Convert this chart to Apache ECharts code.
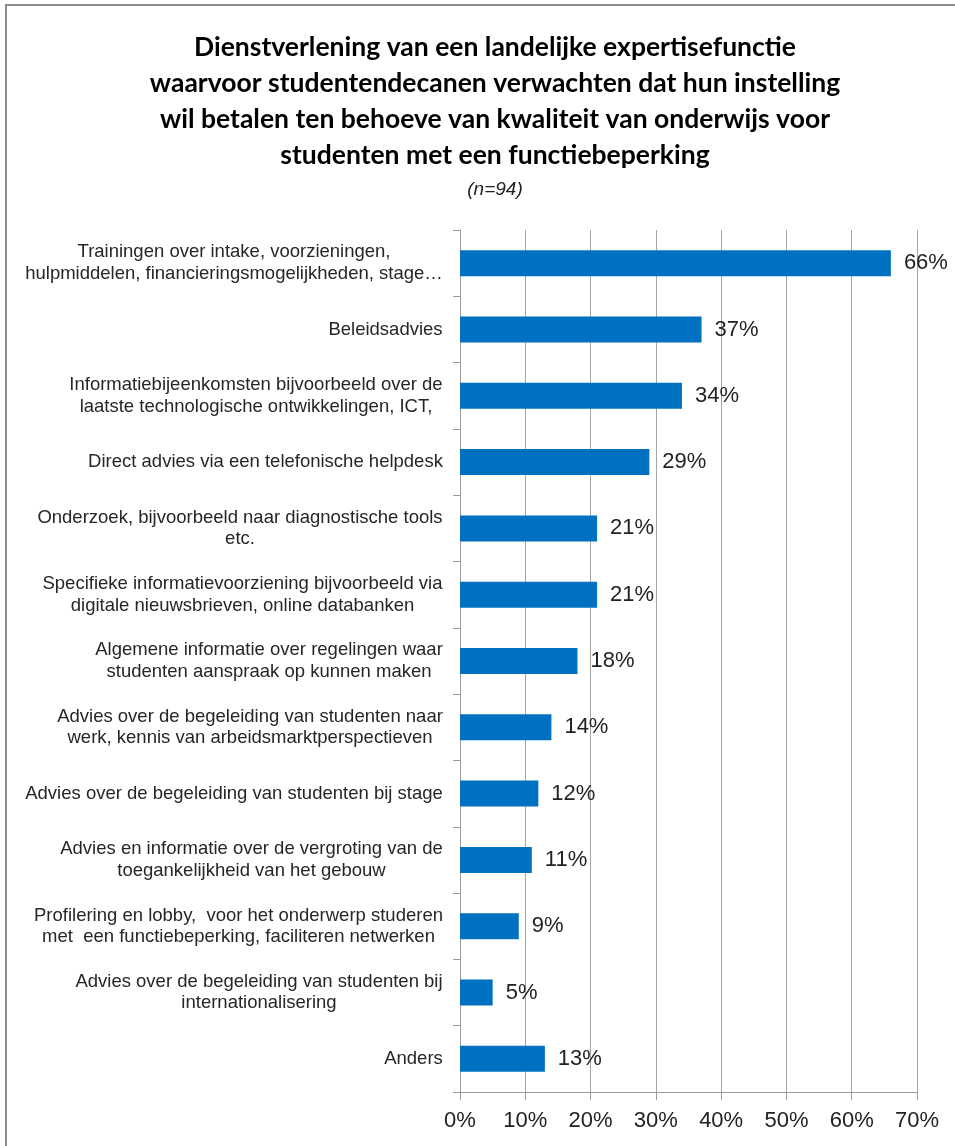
<!DOCTYPE html>
<html>
<head>
<meta charset="utf-8">
<script src="https://cdn.jsdelivr.net/npm/echarts@6/dist/echarts.min.js"></script>
<style>
html,body{margin:0;padding:0;background:#fff;}
#chart{width:955px;height:1146px;}
</style>
</head>
<body>
<div id="chart"></div>
<script>
const titleLines = [
  'Dienstverlening van een landelijke expertisefunctie',
  'waarvoor studentendecanen verwachten dat hun instelling',
  'wil betalen ten behoeve van kwaliteit van onderwijs voor',
  'studenten met een functiebeperking'
];
const subtitle = '(n=94)';
const categories = [
  'Trainingen over intake, voorzieningen,\nhulpmiddelen, financieringsmogelijkheden, stage…',
  'Beleidsadvies',
  'Informatiebijeenkomsten bijvoorbeeld over de\nlaatste technologische ontwikkelingen, ICT,',
  'Direct advies via een telefonische helpdesk',
  'Onderzoek, bijvoorbeeld naar diagnostische tools\netc.',
  'Specifieke informatievoorziening bijvoorbeeld via\ndigitale nieuwsbrieven, online databanken',
  'Algemene informatie over regelingen waar\nstudenten aanspraak op kunnen maken',
  'Advies over de begeleiding van studenten naar\nwerk, kennis van arbeidsmarktperspectieven',
  'Advies over de begeleiding van studenten bij stage',
  'Advies en informatie over de vergroting van de\ntoegankelijkheid van het gebouw',
  'Profilering en lobby,  voor het onderwerp studeren\nmet  een functiebeperking, faciliteren netwerken',
  'Advies over de begeleiding van studenten bij\ninternationalisering',
  'Anders'
];
const values = [66, 37, 34, 29, 21, 21, 18, 14, 12, 11, 9, 5, 13];
const xTicks = [0, 10, 20, 30, 40, 50, 60, 70];

const labelSize = 18.5;
const canvas = document.createElement('canvas');
const ctx = canvas.getContext('2d');
ctx.font = labelSize + 'px "Liberation Sans"';
const rich = {};
categories.forEach((c, i) => {
  const w = Math.max(...c.split('\n').map(l => ctx.measureText(l).width));
  rich['c' + i] = {width: Math.ceil(w), align: 'center', fontSize: labelSize, fontFamily: 'Liberation Sans', color: '#262626', lineHeight: 21.5};
});

const chart = echarts.init(document.getElementById('chart'), null, {renderer: 'canvas'});
chart.setOption({
  backgroundColor: '#fff',
  animation: false,
  title: [{
    text: titleLines.join('\n'),
    left: 490, top: 24, textAlign: 'center',
    textStyle: {fontFamily: 'Lato', fontWeight: 'bold', fontSize: 26.5, lineHeight: 36, color: '#000'}
  }, {
    text: subtitle,
    left: 490, top: 175, textAlign: 'center',
    textStyle: {fontFamily: 'Liberation Sans', fontStyle: 'italic', fontWeight: 'normal', fontSize: 19, color: '#222'}
  }],
  graphic: [{
    type: 'rect', shape: {x: 6, y: 5, width: 960, height: 1160},
    style: {fill: 'none', stroke: '#8c8c8c', lineWidth: 2}, silent: true
  }],
  grid: {left: 460, right: 38, top: 230, bottom: 54, containLabel: false},
  xAxis: {
    type: 'value', min: 0, max: 70, interval: 10,
    axisLine: {show: true, lineStyle: {color: '#9a9a9a', width: 1}},
    axisTick: {show: true, length: 8, lineStyle: {color: '#9a9a9a'}},
    splitLine: {show: true, lineStyle: {color: '#a6a6a6', width: 1}},
    axisLabel: {
      margin: 18, fontFamily: 'Liberation Sans', fontSize: 22, color: '#222',
      formatter: v => xTicks.includes(v) ? v + '%' : ''
    }
  },
  yAxis: {
    type: 'category', inverse: true, data: categories,
    axisLine: {show: true, lineStyle: {color: '#9a9a9a'}},
    axisTick: {show: true, length: 7, lineStyle: {color: '#9a9a9a'}},
    axisLabel: {
      margin: 17, interval: 0,
      formatter: (v, i) => v.split('\n').map(l => '{c' + i + '|' + l + '}').join('\n'),
      rich: rich
    }
  },
  series: [{
    type: 'bar', data: values, barWidth: 26,
    itemStyle: {color: '#0070C0'},
    label: {
      show: true, position: 'right', distance: 13,
      formatter: p => p.value + '%',
      fontFamily: 'Liberation Sans', fontSize: 22, color: '#222'
    }
  }]
});
</script>
</body>
</html>
